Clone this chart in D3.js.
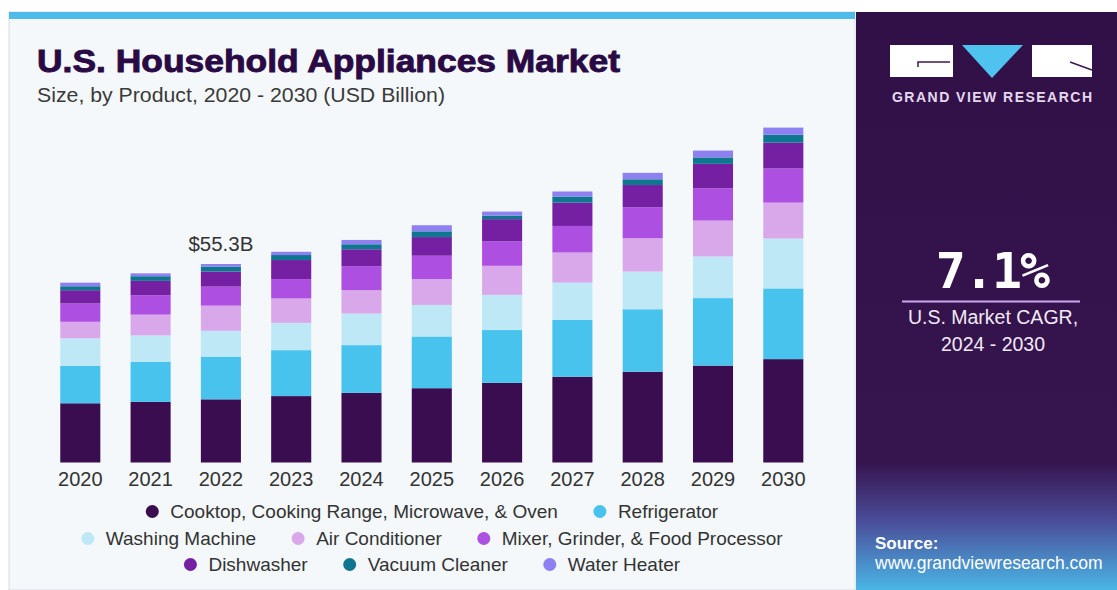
<!DOCTYPE html>
<html>
<head>
<meta charset="utf-8">
<script src="https://cdn.jsdelivr.net/npm/d3@7"></script>
<style>
  html, body { margin: 0; padding: 0; background: #ffffff; }
  svg { display: block; }
</style>
</head>
<body>
<svg id="chart" width="1117" height="590"></svg>
<script>
// U.S. household appliances market size by product, USD billion
const years = ["2020", "2021", "2022", "2023", "2024", "2025", "2026", "2027", "2028", "2029", "2030"];
const cooktop      = [16.5, 16.9, 17.6, 18.5, 19.4, 20.7, 22.2, 23.9, 25.3, 27.0, 28.8];
const refrigerator = [10.4, 11.1, 11.9, 12.8, 13.3, 14.4, 14.7, 15.8, 17.4, 18.8, 19.7];
const washing      = [7.7, 7.4, 7.2, 7.6, 8.8, 8.8, 9.8, 10.4, 10.5, 11.6, 13.9];
const airCond      = [4.6, 5.8, 7.0, 6.8, 6.5, 7.2, 8.1, 8.4, 9.3, 10.0, 10.0];
const mixer        = [5.1, 5.4, 5.3, 5.4, 6.7, 6.5, 6.8, 7.4, 8.6, 9.0, 9.5];
const dishwasher   = [3.7, 4.0, 4.2, 5.3, 4.7, 5.2, 6.2, 6.5, 6.2, 6.8, 7.2];
const vacuum       = [1.1, 1.3, 1.4, 1.4, 1.4, 1.6, 1.0, 1.7, 1.6, 1.8, 2.2];
const waterHeater  = [1.0, 0.8, 0.7, 0.9, 1.2, 1.7, 1.1, 1.4, 1.8, 1.9, 2.0];

const seriesNames = [
  "Cooktop, Cooking Range, Microwave, & Oven", "Refrigerator", "Washing Machine",
  "Air Conditioner", "Mixer, Grinder, & Food Processor", "Dishwasher",
  "Vacuum Cleaner", "Water Heater"
];
const seriesValues = [cooktop, refrigerator, washing, airCond, mixer, dishwasher, vacuum, waterHeater];
const seriesColors = ["#3a0d50", "#48c3ee", "#bfe8f6", "#d8a8ea", "#ad4fe0", "#7520a3", "#0f7690", "#8f80f2"];
const legendRows = [[0, 1], [2, 3, 4], [5, 6, 7]];
const highlightYear = "2022";
const cagrText = "7.1%";

const svg = d3.select("#chart");
const W = 1117, H = 590;
const FONT = "Liberation Sans, Arial, sans-serif";

// ---- backgrounds ----
const defs = svg.append("defs");
const grad = defs.append("linearGradient").attr("id", "sideGrad")
  .attr("x1", 0).attr("y1", 0).attr("x2", 0).attr("y2", 1);
grad.append("stop").attr("offset", "0").attr("stop-color", "#311047");
grad.append("stop").attr("offset", "0.78").attr("stop-color", "#36154f");
grad.append("stop").attr("offset", "0.88").attr("stop-color", "#4a4c98");
grad.append("stop").attr("offset", "1").attr("stop-color", "#4ab6e6");

svg.append("rect").attr("x", 0).attr("y", 0).attr("width", W).attr("height", H).attr("fill", "#ffffff");
// main card
svg.append("rect").attr("x", 9).attr("y", 12).attr("width", 846).attr("height", H - 12)
  .attr("fill", "#f4f8fb").attr("stroke", "#d6dbe0").attr("stroke-width", 1);
svg.append("rect").attr("x", 9).attr("y", 12).attr("width", 846).attr("height", 7).attr("fill", "#4fbbea");
// side panel
svg.append("rect").attr("x", 856).attr("y", 12).attr("width", W - 856).attr("height", H - 12)
  .attr("fill", "url(#sideGrad)");

// ---- titles ----
svg.append("text").attr("x", 37).attr("y", 72)
  .attr("font-family", FONT).attr("font-weight", "bold")
  .attr("font-size", 31).attr("fill", "#2a0a44")
  .attr("stroke", "#2a0a44").attr("stroke-width", 0.9)
  .attr("textLength", 583).attr("lengthAdjust", "spacingAndGlyphs")
  .text("U.S. Household Appliances Market");

svg.append("text").attr("x", 37).attr("y", 102)
  .attr("font-family", FONT)
  .attr("font-size", 20).attr("fill", "#3a3a3a")
  .attr("textLength", 408).attr("lengthAdjust", "spacingAndGlyphs")
  .text("Size, by Product, 2020 - 2030 (USD Billion)");

// ---- scales ----
const x = d3.scaleBand().domain(years).range([46.2, 817.4]).paddingInner(0.43).paddingOuter(0.2);
const y = d3.scaleLinear().domain([0, 100]).range([462.5, 103.55]);

const table = years.map((yr, i) => {
  const row = { year: yr };
  seriesNames.forEach((s, j) => { row[s] = seriesValues[j][i]; });
  return row;
});
const stacked = d3.stack().keys(seriesNames)(table);

svg.append("g").selectAll("g.layer").data(stacked).join("g")
  .attr("class", "layer")
  .attr("fill", (d, i) => seriesColors[i])
  .selectAll("rect").data(d => d).join("rect")
  .attr("x", d => x(d.data.year))
  .attr("width", x.bandwidth())
  .attr("y", d => y(d[1]))
  .attr("height", d => y(d[0]) - y(d[1]));

// ---- year axis ----
const xAxis = svg.append("g").attr("transform", "translate(0,462.5)")
  .call(d3.axisBottom(x).tickSize(0).tickPadding(9));
xAxis.select(".domain").remove();
xAxis.selectAll("text")
  .attr("font-family", FONT)
  .attr("font-size", 20).attr("fill", "#333333");

// ---- value label ----
const hi = years.indexOf(highlightYear);
const hiTotal = d3.sum(seriesValues, s => s[hi]);
svg.append("text")
  .attr("x", x(highlightYear) + x.bandwidth() / 2)
  .attr("y", y(hiTotal) - 13)
  .attr("text-anchor", "middle")
  .attr("font-family", FONT)
  .attr("font-size", 20.5).attr("fill", "#333333")
  .text("$" + d3.format(".1f")(hiTotal) + "B");

// ---- legend ----
const legendBase = [518, 545, 571];
const legendCenter = 432;
const gap = 42, dotToText = 18, r = 6.5;
legendRows.forEach((row, ri) => {
  const g = svg.append("g");
  let cursor = 0;
  row.forEach((si) => {
    const it = g.append("g").attr("transform", `translate(${cursor},0)`);
    it.append("circle").attr("cx", 0).attr("cy", legendBase[ri] - 6.5).attr("r", r)
      .attr("fill", seriesColors[si]);
    const t = it.append("text").attr("x", dotToText).attr("y", legendBase[ri])
      .attr("font-family", FONT)
      .attr("font-size", 19).attr("fill", "#333333")
      .text(seriesNames[si]);
    cursor += dotToText + t.node().getComputedTextLength() + gap;
  });
  const total = cursor - gap + r;
  g.attr("transform", `translate(${legendCenter - total / 2 + r},0)`);
});

// ---- side panel: logo ----
const logo = svg.append("g");
logo.append("rect").attr("x", 890).attr("y", 45).attr("width", 63).attr("height", 32).attr("fill", "#ffffff");
logo.append("path").attr("d", "M918,67 L918,62 L950,62").attr("fill", "none")
  .attr("stroke", "#3a1a50").attr("stroke-width", 1.5);
logo.append("path").attr("d", "M962,45 L1023,45 L992,78 Z").attr("fill", "#4fc3f0");
logo.append("rect").attr("x", 1032).attr("y", 45).attr("width", 60).attr("height", 32).attr("fill", "#ffffff");
logo.append("path").attr("d", "M1070,62 L1092,70").attr("fill", "none")
  .attr("stroke", "#3a1a50").attr("stroke-width", 1.5);
svg.append("text").attr("x", 892).attr("y", 102)
  .attr("font-family", FONT).attr("font-weight", "bold")
  .attr("font-size", 14).attr("fill", "#e4d8ef")
  .attr("textLength", 200).attr("lengthAdjust", "spacing")
  .text("GRAND VIEW RESEARCH");

// ---- side panel: CAGR ----
svg.append("text").attr("x", 992).attr("y", 288).attr("text-anchor", "middle")
  .attr("font-family", "DejaVu Sans Mono, monospace").attr("font-weight", "bold")
  .attr("font-size", 50).attr("letter-spacing", -2).attr("fill", "#ffffff")
  .text(cagrText);
svg.append("line").attr("x1", 902).attr("x2", 1080).attr("y1", 301.5).attr("y2", 301.5)
  .attr("stroke", "#c9a6ec").attr("stroke-width", 2);
svg.append("text").attr("x", 993).attr("y", 324).attr("text-anchor", "middle")
  .attr("font-family", FONT)
  .attr("font-size", 19.5).attr("fill", "#f1e9f6")
  .text("U.S. Market CAGR,");
svg.append("text").attr("x", 993).attr("y", 351).attr("text-anchor", "middle")
  .attr("font-family", FONT)
  .attr("font-size", 19.5).attr("fill", "#f1e9f6")
  .text("2024 - 2030");

// ---- side panel: source ----
svg.append("text").attr("x", 875).attr("y", 549)
  .attr("font-family", FONT).attr("font-weight", "bold")
  .attr("font-size", 17).attr("fill", "#ffffff")
  .text("Source:");
svg.append("text").attr("x", 875).attr("y", 569)
  .attr("font-family", FONT)
  .attr("font-size", 17.5).attr("fill", "#ffffff")
  .text("www.grandviewresearch.com");
</script>
</body>
</html>
